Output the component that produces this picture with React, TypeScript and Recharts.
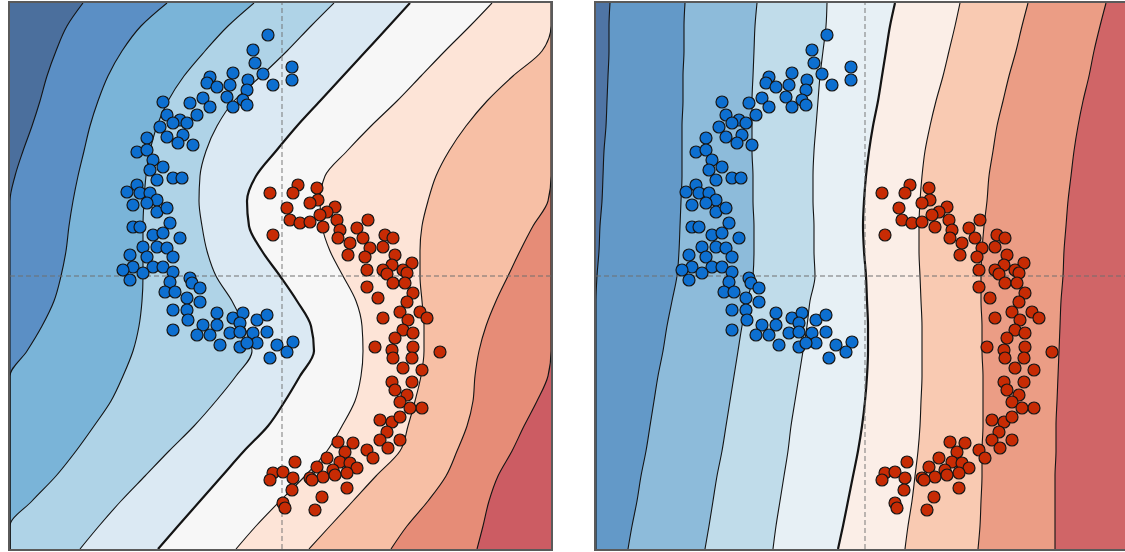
import React from 'react';
import { ComposedChart, Area, Scatter, XAxis, YAxis, ReferenceLine } from 'recharts';

// rows (feature 2) at which each contour level is sampled, top to bottom
const rowY = [2.73, 2.5, 2.25, 2.0, 1.75, 1.5, 1.25, 1.0, 0.75, 0.5, 0.25, 0, -0.25, -0.5, -0.75, -1.0, -1.25, -1.5, -1.75, -2.0, -2.25, -2.5, -2.73];

// left panel: x position of each contour line per row (clamped to the frame)
const leftB1 = [-1.99, -2.15, -2.26, -2.35, -2.42, -2.5, -2.59, -2.67, -2.72, -2.72, -2.72, -2.72, -2.72, -2.72, -2.72, -2.72, -2.72, -2.72, -2.72, -2.72, -2.72, -2.72, -2.72];
const leftB2 = [-1.15, -1.41, -1.6, -1.74, -1.84, -1.92, -1.98, -2.04, -2.09, -2.13, -2.16, -2.21, -2.28, -2.4, -2.55, -2.72, -2.72, -2.72, -2.72, -2.72, -2.72, -2.72, -2.72];
const leftB3 = [-0.28, -0.54, -0.77, -0.98, -1.14, -1.25, -1.32, -1.36, -1.38, -1.39, -1.39, -1.39, -1.4, -1.43, -1.49, -1.59, -1.71, -1.88, -2.06, -2.26, -2.5, -2.72, -2.72];
const leftB4 = [0.52, 0.29, 0.05, -0.21, -0.48, -0.65, -0.76, -0.82, -0.83, -0.8, -0.75, -0.66, -0.5, -0.38, -0.3, -0.46, -0.66, -0.88, -1.13, -1.37, -1.61, -1.83, -2.02];
const leftB5 = [1.28, 1.07, 0.84, 0.61, 0.38, 0.15, -0.06, -0.26, -0.35, -0.33, -0.2, -0.02, 0.15, 0.29, 0.32, 0.18, 0.03, -0.14, -0.38, -0.6, -0.82, -1.04, -1.24];
const leftB6 = [2.1, 1.88, 1.63, 1.39, 1.15, 0.89, 0.65, 0.43, 0.38, 0.4, 0.48, 0.61, 0.74, 0.8, 0.81, 0.79, 0.73, 0.6, 0.45, 0.23, -0.02, -0.26, -0.46];
const leftB7 = [2.69, 2.69, 2.6, 2.31, 2.05, 1.84, 1.67, 1.54, 1.46, 1.4, 1.38, 1.38, 1.4, 1.42, 1.42, 1.39, 1.33, 1.26, 1.18, 0.94, 0.71, 0.48, 0.27];
const leftB8 = [2.69, 2.69, 2.69, 2.69, 2.69, 2.69, 2.69, 2.69, 2.66, 2.51, 2.38, 2.26, 2.14, 2.04, 1.97, 1.93, 1.91, 1.85, 1.75, 1.64, 1.46, 1.25, 1.09];
const leftB9 = [2.69, 2.69, 2.69, 2.69, 2.69, 2.69, 2.69, 2.69, 2.69, 2.69, 2.69, 2.69, 2.69, 2.69, 2.69, 2.66, 2.55, 2.42, 2.3, 2.16, 2.07, 2.01, 1.95];

// right panel contour lines
const rightR1 = [-2.55, -2.56, -2.56, -2.57, -2.58, -2.59, -2.61, -2.62, -2.63, -2.65, -2.66, -2.68, -2.69, -2.69, -2.69, -2.69, -2.69, -2.69, -2.69, -2.69, -2.69, -2.69, -2.69];
const rightR2 = [-1.8, -1.81, -1.81, -1.82, -1.82, -1.83, -1.83, -1.83, -1.84, -1.85, -1.86, -1.88, -1.93, -1.98, -2.02, -2.07, -2.11, -2.15, -2.19, -2.24, -2.28, -2.33, -2.37];
const rightR3 = [-1.08, -1.1, -1.11, -1.12, -1.13, -1.13, -1.13, -1.12, -1.12, -1.11, -1.11, -1.12, -1.18, -1.23, -1.27, -1.31, -1.35, -1.39, -1.43, -1.48, -1.52, -1.56, -1.6];
const rightR4 = [-0.38, -0.39, -0.42, -0.45, -0.47, -0.49, -0.51, -0.52, -0.52, -0.51, -0.51, -0.5, -0.55, -0.58, -0.62, -0.66, -0.7, -0.74, -0.77, -0.81, -0.85, -0.89, -0.92];
const rightR5 = [0.3, 0.25, 0.21, 0.17, 0.13, 0.08, 0.04, 0.01, -0.01, -0.02, -0.01, 0.01, 0.02, 0.03, 0.03, 0.02, 0.0, -0.03, -0.07, -0.12, -0.17, -0.22, -0.27];
const rightR6 = [0.95, 0.9, 0.84, 0.78, 0.71, 0.65, 0.6, 0.57, 0.55, 0.54, 0.54, 0.55, 0.56, 0.57, 0.57, 0.57, 0.56, 0.55, 0.53, 0.5, 0.47, 0.43, 0.4];
const rightR7 = [1.63, 1.57, 1.51, 1.44, 1.38, 1.32, 1.28, 1.24, 1.22, 1.19, 1.17, 1.16, 1.16, 1.17, 1.17, 1.18, 1.18, 1.18, 1.17, 1.17, 1.16, 1.15, 1.13];
const rightR8 = [2.41, 2.35, 2.29, 2.24, 2.18, 2.13, 2.09, 2.06, 2.03, 2.01, 1.99, 1.98, 1.96, 1.95, 1.94, 1.93, 1.92, 1.91, 1.91, 1.9, 1.9, 1.9, 1.9];

const leftBands = ['#4b6f9d', '#5b8fc5', '#7ab4d8', '#afd3e7', '#dbe9f3', '#f7f7f7', '#fde4d7', '#f7bfa5', '#e68c77', '#cc5c63'];
const rightBands = ['#4f75a5', '#6399c8', '#8dbbda', '#c0dcea', '#e7f0f5', '#fbeee7', '#f9cab2', '#eb9d85', '#d06567'];

const blueLeft = [
  [-0.14, 2.41], [-0.29, 2.26], [-0.27, 2.13], [-0.19, 2.02], [-0.09, 1.91], [0.1, 2.09], [0.1, 1.96], [-0.49, 2.03],
  [-0.34, 1.96], [-0.72, 1.99], [-0.75, 1.93], [-0.65, 1.89], [-0.52, 1.91], [-0.35, 1.86], [-0.55, 1.79], [-0.39, 1.76],
  [-0.49, 1.69], [-0.35, 1.71], [-0.79, 1.78], [-0.92, 1.73], [-0.72, 1.69], [-1.19, 1.74], [-1.15, 1.61], [-1.02, 1.56],
  [-0.85, 1.61], [-1.22, 1.49], [-1.09, 1.53], [-0.95, 1.53], [-1.15, 1.39], [-0.99, 1.41], [-1.35, 1.38], [-1.04, 1.33],
  [-0.89, 1.31], [-1.45, 1.24], [-1.35, 1.26], [-1.29, 1.16], [-1.19, 1.09], [-1.32, 1.06], [-1.25, 0.96], [-1.09, 0.98],
  [-1.0, 0.98], [-1.45, 0.91], [-1.55, 0.84], [-1.42, 0.83], [-1.32, 0.83], [-1.25, 0.76], [-1.49, 0.71], [-1.35, 0.73],
  [-1.25, 0.64], [-1.15, 0.68], [-1.49, 0.49], [-1.42, 0.49], [-1.29, 0.41], [-1.19, 0.43], [-1.12, 0.53], [-1.02, 0.38],
  [-1.39, 0.29], [-1.25, 0.29], [-1.15, 0.28], [-1.52, 0.21], [-1.35, 0.19], [-1.09, 0.19], [-1.49, 0.09], [-1.29, 0.09],
  [-1.19, 0.09], [-1.59, 0.06], [-1.39, 0.03], [-0.92, -0.02], [-1.52, -0.04], [-1.09, 0.04], [-1.12, -0.06], [-0.9, -0.07],
  [-0.82, -0.12], [-1.17, -0.16], [-1.07, -0.16], [-0.95, -0.22], [-0.82, -0.26], [-1.09, -0.34], [-0.95, -0.34], [-0.65, -0.37],
  [-0.94, -0.44], [-0.79, -0.49], [-1.09, -0.54], [-0.85, -0.59], [-0.65, -0.49], [-0.72, -0.59], [-0.62, -0.69], [-0.49, -0.42],
  [-0.39, -0.37], [-0.42, -0.47], [-0.52, -0.57], [-0.42, -0.56], [-0.42, -0.71], [-0.25, -0.44], [-0.15, -0.39], [-0.29, -0.57],
  [-0.15, -0.56], [-0.25, -0.67], [-0.05, -0.69], [0.11, -0.66], [-0.12, -0.82], [0.05, -0.76], [-0.35, -0.67],
];

const redLeft = [
  [-0.12, 0.83], [-0.09, 0.41], [0.16, 0.91], [0.11, 0.83], [0.35, 0.88], [0.36, 0.76], [0.05, 0.68], [0.28, 0.73],
  [0.53, 0.69], [0.45, 0.64], [0.08, 0.56], [0.18, 0.53], [0.28, 0.54], [0.38, 0.61], [0.41, 0.49], [0.55, 0.56],
  [0.58, 0.46], [0.56, 0.38], [0.75, 0.48], [0.86, 0.56], [0.81, 0.38], [0.68, 0.33], [0.88, 0.28], [1.03, 0.41],
  [1.11, 0.38], [0.66, 0.21], [0.83, 0.19], [1.01, 0.29], [1.13, 0.21], [1.3, 0.13], [1.1, 0.11], [0.85, 0.06],
  [1.01, 0.06], [1.21, 0.06], [1.05, 0.02], [1.25, 0.03], [0.85, -0.11], [1.11, -0.07], [1.23, -0.07], [1.31, -0.17],
  [0.96, -0.22], [1.25, -0.26], [1.18, -0.36], [1.38, -0.36], [1.01, -0.42], [1.26, -0.44], [1.45, -0.42], [1.21, -0.54],
  [1.31, -0.57], [1.13, -0.62], [0.93, -0.71], [1.1, -0.74], [1.31, -0.71], [1.11, -0.82], [1.3, -0.82], [1.58, -0.76],
  [1.21, -0.92], [1.4, -0.94], [1.1, -1.06], [1.3, -1.06], [1.13, -1.14], [1.25, -1.19], [1.18, -1.26], [1.4, -1.32],
  [1.28, -1.32], [0.98, -1.44], [1.1, -1.46], [1.18, -1.41], [1.05, -1.56], [0.98, -1.64], [1.18, -1.64], [1.06, -1.72],
  [0.56, -1.66], [0.71, -1.67], [0.85, -1.74], [0.91, -1.82], [0.63, -1.76], [0.45, -1.82], [0.58, -1.86], [0.68, -1.87],
  [0.75, -1.92], [0.35, -1.91], [0.51, -1.94], [0.65, -1.97], [0.13, -1.86], [0.28, -2.02], [0.41, -2.01], [0.53, -1.99],
  [-0.09, -1.97], [0.01, -1.96], [0.11, -2.02], [-0.12, -2.04], [0.1, -2.14], [0.3, -2.04], [0.65, -2.12], [0.4, -2.21],
  [0.01, -2.27], [0.03, -2.32], [0.33, -2.34],
];

const blueRight = [
  [-0.38, 2.41], [-0.53, 2.26], [-0.51, 2.13], [-0.43, 2.02], [-0.33, 1.91], [-0.14, 2.09], [-0.14, 1.96], [-0.73, 2.03],
  [-0.58, 1.96], [-0.96, 1.99], [-0.99, 1.93], [-0.89, 1.89], [-0.76, 1.91], [-0.59, 1.86], [-0.79, 1.79], [-0.63, 1.76],
  [-0.73, 1.69], [-0.59, 1.71], [-1.03, 1.78], [-1.16, 1.73], [-0.96, 1.69], [-1.43, 1.74], [-1.39, 1.61], [-1.26, 1.56],
  [-1.09, 1.61], [-1.46, 1.49], [-1.33, 1.53], [-1.19, 1.53], [-1.39, 1.39], [-1.23, 1.41], [-1.59, 1.38], [-1.28, 1.33],
  [-1.13, 1.31], [-1.69, 1.24], [-1.59, 1.26], [-1.53, 1.16], [-1.43, 1.09], [-1.56, 1.06], [-1.49, 0.96], [-1.33, 0.98],
  [-1.24, 0.98], [-1.69, 0.91], [-1.79, 0.84], [-1.66, 0.83], [-1.56, 0.83], [-1.49, 0.76], [-1.73, 0.71], [-1.59, 0.73],
  [-1.49, 0.64], [-1.39, 0.68], [-1.73, 0.49], [-1.66, 0.49], [-1.53, 0.41], [-1.43, 0.43], [-1.36, 0.53], [-1.26, 0.38],
  [-1.63, 0.29], [-1.49, 0.29], [-1.39, 0.28], [-1.76, 0.21], [-1.59, 0.19], [-1.33, 0.19], [-1.73, 0.09], [-1.53, 0.09],
  [-1.43, 0.09], [-1.83, 0.06], [-1.63, 0.03], [-1.16, -0.02], [-1.76, -0.04], [-1.33, 0.04], [-1.36, -0.06], [-1.14, -0.07],
  [-1.06, -0.12], [-1.41, -0.16], [-1.31, -0.16], [-1.19, -0.22], [-1.06, -0.26], [-1.33, -0.34], [-1.19, -0.34], [-0.89, -0.37],
  [-1.18, -0.44], [-1.03, -0.49], [-1.33, -0.54], [-1.09, -0.59], [-0.89, -0.49], [-0.96, -0.59], [-0.86, -0.69], [-0.73, -0.42],
  [-0.63, -0.37], [-0.66, -0.47], [-0.76, -0.57], [-0.66, -0.56], [-0.66, -0.71], [-0.49, -0.44], [-0.39, -0.39], [-0.53, -0.57],
  [-0.39, -0.56], [-0.49, -0.67], [-0.29, -0.69], [-0.13, -0.66], [-0.36, -0.82], [-0.19, -0.76], [-0.59, -0.67],
];

const redRight = [
  [0.17, 0.83], [0.2, 0.41], [0.45, 0.91], [0.4, 0.83], [0.64, 0.88], [0.65, 0.76], [0.34, 0.68], [0.57, 0.73],
  [0.82, 0.69], [0.74, 0.64], [0.37, 0.56], [0.47, 0.53], [0.57, 0.54], [0.67, 0.61], [0.7, 0.49], [0.84, 0.56],
  [0.87, 0.46], [0.85, 0.38], [1.04, 0.48], [1.15, 0.56], [1.1, 0.38], [0.97, 0.33], [1.17, 0.28], [1.32, 0.41],
  [1.4, 0.38], [0.95, 0.21], [1.12, 0.19], [1.3, 0.29], [1.42, 0.21], [1.59, 0.13], [1.39, 0.11], [1.14, 0.06],
  [1.3, 0.06], [1.5, 0.06], [1.34, 0.02], [1.54, 0.03], [1.14, -0.11], [1.4, -0.07], [1.52, -0.07], [1.6, -0.17],
  [1.25, -0.22], [1.54, -0.26], [1.47, -0.36], [1.67, -0.36], [1.3, -0.42], [1.55, -0.44], [1.74, -0.42], [1.5, -0.54],
  [1.6, -0.57], [1.42, -0.62], [1.22, -0.71], [1.39, -0.74], [1.6, -0.71], [1.4, -0.82], [1.59, -0.82], [1.87, -0.76],
  [1.5, -0.92], [1.69, -0.94], [1.39, -1.06], [1.59, -1.06], [1.42, -1.14], [1.54, -1.19], [1.47, -1.26], [1.69, -1.32],
  [1.57, -1.32], [1.27, -1.44], [1.39, -1.46], [1.47, -1.41], [1.34, -1.56], [1.27, -1.64], [1.47, -1.64], [1.35, -1.72],
  [0.85, -1.66], [1.0, -1.67], [1.14, -1.74], [1.2, -1.82], [0.92, -1.76], [0.74, -1.82], [0.87, -1.86], [0.97, -1.87],
  [1.04, -1.92], [0.64, -1.91], [0.8, -1.94], [0.94, -1.97], [0.42, -1.86], [0.57, -2.02], [0.7, -2.01], [0.82, -1.99],
  [0.2, -1.97], [0.3, -1.96], [0.4, -2.02], [0.17, -2.04], [0.39, -2.14], [0.59, -2.04], [0.94, -2.12], [0.69, -2.21],
  [0.3, -2.27], [0.32, -2.32], [0.62, -2.34],
];

const PANEL_W = 541;
const PANEL_H = 546;
const Y_DOMAIN: [number, number] = [-2.73, 2.73];

const toPoints = (arr: number[][]) => arr.map(([x, y]) => ({ x, y }));

const makeDot = (fill: string) => (props: any) => (
  <circle cx={props.cx} cy={props.cy} r={6} fill={fill} stroke="#161616" strokeWidth={1.2} />
);
const BlueDot = makeDot('#0d6fd0');
const RedDot = makeDot('#c72b04');

interface PanelProps {
  levels: number[][];
  bands: string[];
  thick: number;
  xDomain: [number, number];
  blue: number[][];
  red: number[][];
}

const ContourPanel: React.FC<PanelProps> = ({ levels, bands, thick, xDomain, blue, red }) => {
  const data = rowY.map((y, i) => {
    const row: Record<string, number> = { y };
    levels.forEach((lv, k) => {
      row['b' + k] = lv[i];
    });
    return row;
  });
  // rightmost level first; every band is filled from the left edge up to its line
  const order = levels.map((_, k) => k).reverse();

  return (
    <div style={{ width: PANEL_W, height: PANEL_H, background: bands[bands.length - 1] }}>
      <ComposedChart
        width={PANEL_W}
        height={PANEL_H}
        data={data}
        layout="vertical"
        margin={{ top: 0, right: 0, bottom: 0, left: 0 }}
      >
        <XAxis type="number" dataKey="x" domain={xDomain} allowDataOverflow hide />
        <YAxis type="number" dataKey="y" domain={Y_DOMAIN} allowDataOverflow reversed hide />
        {order.map((k) => (
          <Area
            key={k}
            dataKey={'b' + k}
            type="monotone"
            baseValue="dataMin"
            fill={bands[k]}
            fillOpacity={1}
            stroke="#141414"
            strokeWidth={k === thick ? 2.2 : 1.1}
            dot={false}
            activeDot={false}
            isAnimationActive={false}
          />
        ))}
        <ReferenceLine x={0} stroke="rgba(110,110,110,0.65)" strokeWidth={1.4} strokeDasharray="5 3" />
        <ReferenceLine y={0} stroke="rgba(110,110,110,0.65)" strokeWidth={1.4} strokeDasharray="5 3" />
        <Scatter data={toPoints(blue)} shape={BlueDot} isAnimationActive={false} />
        <Scatter data={toPoints(red)} shape={RedDot} isAnimationActive={false} />
      </ComposedChart>
    </div>
  );
};

const frame: React.CSSProperties = {
  position: 'absolute',
  border: '2px solid #5a5a5a',
  boxSizing: 'border-box',
  pointerEvents: 'none',
};

export default function App() {
  return (
    <div style={{ position: 'fixed', left: 0, top: 0, width: 1125, height: 552, overflow: 'hidden', background: '#fff' }}>
      <div style={{ position: 'absolute', left: 10, top: 3 }}>
        <ContourPanel
          levels={[leftB1, leftB2, leftB3, leftB4, leftB5, leftB6, leftB7, leftB8, leftB9]}
          bands={leftBands}
          thick={4}
          xDomain={[-2.72, 2.69]}
          blue={blueLeft}
          red={redLeft}
        />
      </div>
      <div style={{ ...frame, left: 8, top: 1, width: 545, height: 550 }} />
      <div style={{ position: 'absolute', left: 596, top: 3 }}>
        <ContourPanel
          levels={[rightR1, rightR2, rightR3, rightR4, rightR5, rightR6, rightR7, rightR8]}
          bands={rightBands}
          thick={4}
          xDomain={[-2.69, 2.72]}
          blue={blueRight}
          red={redRight}
        />
      </div>
      <div style={{ ...frame, left: 594, top: 1, width: 545, height: 550 }} />
    </div>
  );
}
